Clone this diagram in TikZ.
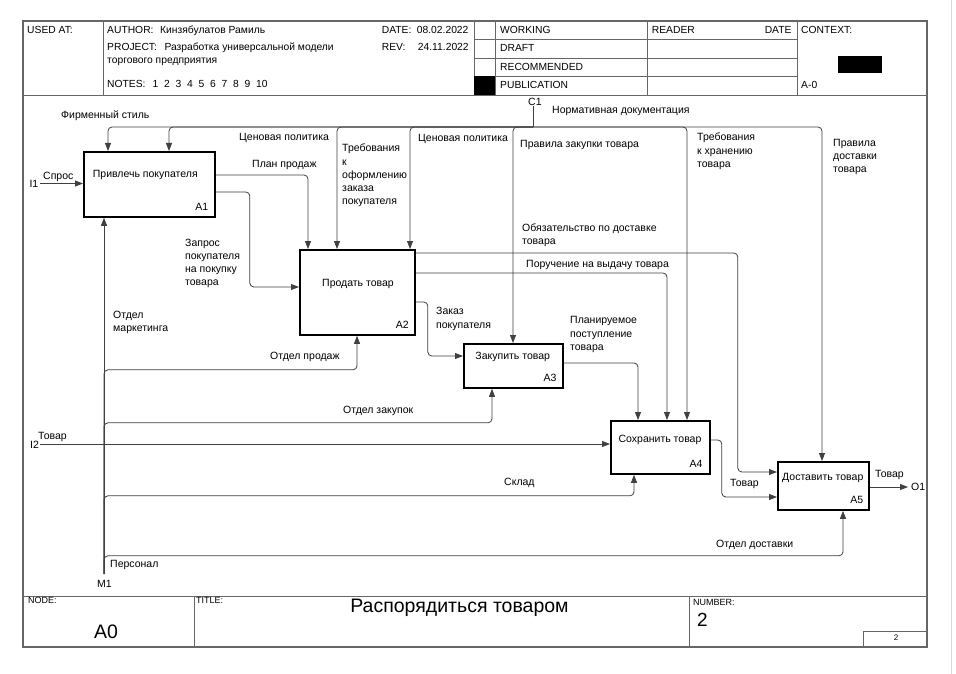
\documentclass[tikz,border=0pt]{standalone}
\usepackage{fontspec}
\setmainfont{Liberation Sans}
\usetikzlibrary{arrows.meta}
\newcommand{\lblfont}{\fontsize{10.5}{13.3}\selectfont}
\newcommand{\hdrfont}{\fontsize{10.3}{12}\selectfont}
\newcommand{\smallfnt}{\fontsize{9}{10}\selectfont}
\begin{document}
\begin{tikzpicture}[x=1pt,y=-1pt,
  box/.style={draw=black,line width=1.8pt,anchor=north west,inner sep=0pt},
  conn/.style={draw=black!75,line width=0.8pt,rounded corners=4pt},
  arr/.style={conn,-{Triangle[length=8pt,width=6pt]}},
  lbl/.style={font=\lblfont,inner sep=0pt,anchor=base west},
  mlbl/.style={font=\lblfont,inner sep=0pt,anchor=north west,align=left},
  btxt/.style={font=\lblfont,inner sep=0pt,anchor=base},
  bnum/.style={font=\lblfont,inner sep=0pt,anchor=base east},
  hdr/.style={font=\hdrfont,inner sep=0pt,anchor=base west},
  ftr/.style={font=\smallfnt,inner sep=0pt,anchor=base west},
  frm/.style={draw=black!60,line width=1.3pt},
  gridl/.style={draw=black!60,line width=0.9pt}]
\useasboundingbox (0,0) rectangle (956,674);
\fill[white] (0,0) rectangle (956,674);
\draw[black!15,line width=0.8pt] (951,0) -- (951,674);

% ---------- frame ----------
\draw[frm] (23,21) rectangle (927,647);
\draw[gridl] (23,95) -- (927,95);
\draw[gridl] (103,21) -- (103,95);
\draw[gridl] (474,21) -- (474,95);
\draw[gridl] (495,21) -- (495,95);
\draw[gridl] (647,21) -- (647,95);
\draw[gridl] (797,21) -- (797,95);
\draw[gridl] (474,39.5) -- (797,39.5);
\draw[gridl] (474,58) -- (797,58);
\draw[gridl] (474,76.5) -- (797,76.5);
\fill[black] (474,76.5) rectangle (495,95);
\fill[black] (838,56) rectangle (882,73);
\draw[gridl] (23,596) -- (927,596);
\draw[gridl] (194,596) -- (194,647);
\draw[gridl] (689,596) -- (689,647);
\draw[gridl] (863,631) rectangle (927,647);

% ---------- header texts ----------
\node[hdr] (usedat) at (27,33.5) {USED AT:};
\node[hdr] (author) at (107,33.5) {AUTHOR:};
\node[hdr] (authorn) at (160,33.5) {Кинзябулатов Рамиль};
\node[hdr] (project) at (107,51) {PROJECT:};
\node[hdr] (projectn) at (164.3,51) {Разработка универсальной модели};
\node[hdr] (project2) at (107,64) {торгового предприятия};
\node[hdr] (notes) at (107,88) {NOTES:};
\node[hdr] (notesn) at (152.3,88) {1\hspace{5.8pt}2\hspace{5.8pt}3\hspace{5.8pt}4\hspace{5.8pt}5\hspace{5.8pt}6\hspace{5.8pt}7\hspace{5.8pt}8\hspace{5.8pt}9\hspace{5.8pt}10};
\node[hdr] (date) at (381.7,33.5) {DATE:};
\node[hdr] (daten) at (416.7,33.5) {08.02.2022};
\node[hdr] (rev) at (381.7,51) {REV:};
\node[hdr] (revn) at (417.7,51) {24.11.2022};
\node[hdr] (working) at (500,34) {WORKING};
\node[hdr] (draft) at (500,52) {DRAFT};
\node[hdr] (recom) at (500,70.5) {RECOMMENDED};
\node[hdr] (publ) at (500,88.3) {PUBLICATION};
\node[hdr] (reader) at (651.7,34) {READER};
\node[hdr,anchor=base east] (rdate) at (791.7,34) {DATE};
\node[hdr] (context) at (801,34) {CONTEXT:};
\node[hdr] (actx) at (801,88.3) {A-0};

% ---------- footer texts ----------
\node[ftr] (nodelbl) at (28,603) {NODE:};
\node[font=\fontsize{19.5}{22}\selectfont,inner sep=0pt,anchor=base west] (nodeval) at (94,638.3) {A0};
\node[ftr] (titlelbl) at (196,603) {TITLE:};
\node[font=\fontsize{19.5}{22}\selectfont,inner sep=0pt,anchor=base] (titleval) at (459.5,612) {Распорядиться товаром};
\node[ftr] (numlbl) at (693,605) {NUMBER:};
\node[font=\fontsize{19}{22}\selectfont,inner sep=0pt,anchor=base west] (numval) at (697,626) {2};
\node[font=\fontsize{8}{10}\selectfont,inner sep=0pt,anchor=base] (pagenum) at (896,640) {2};

% ---------- boxes ----------
\node[box,minimum width=131pt,minimum height=65pt] (A1) at (83,151) {};
\node[box,minimum width=115pt,minimum height=85pt] (A2) at (299,249) {};
\node[box,minimum width=99pt,minimum height=44pt] (A3) at (463,343) {};
\node[box,minimum width=99pt,minimum height=53pt] (A4) at (610,420) {};
\node[box,minimum width=91pt,minimum height=48pt] (A5) at (777,461) {};

\node[btxt] (A1t) at (145.3,178) {Привлечь покупателя};
\node[bnum] (A1n) at (208.3,210.5) {A1};
\node[btxt] (A2t) at (358,286.3) {Продать товар};
\node[bnum] (A2n) at (409,328) {A2};
\node[btxt] (A3t) at (512.7,359.7) {Закупить товар};
\node[bnum] (A3n) at (556.7,381) {A3};
\node[btxt] (A4t) at (660,442) {Сохранить товар};
\node[bnum] (A4n) at (702.7,467) {A4};
\node[btxt] (A5t) at (822.8,480.3) {Доставить товар};
\node[bnum] (A5n) at (863.3,503) {A5};

% ---------- boundary points ----------
\coordinate (C1top) at (533,106);
\coordinate (C1j) at (533,127);
\coordinate (I1) at (40,183.5);
\coordinate (I2) at (40,444);
\coordinate (O1) at (908,487);
\coordinate (M1) at (104,574);

% ---------- controls ----------
\draw[conn] (C1top) -- (C1j);
\draw[arr] (C1j) -| ([xshift=25pt]A1.north west);
\draw[arr] (C1j) -| ([xshift=86pt]A1.north west);
\draw[arr] (C1j) -| ([xshift=38pt]A2.north west);
\draw[arr] (C1j) -| ([xshift=111pt]A2.north west);
\draw[arr] (C1j) -| ([xshift=50pt]A3.north west);
\draw[arr] (C1j) -| ([xshift=77pt]A4.north west);
\draw[arr] (C1j) -| ([xshift=45pt]A5.north west);

% ---------- inputs / outputs ----------
\draw[arr] (I1) -- (I1 -| A1.west);
\draw[arr] (I2) -- (I2 -| A4.west);
\draw[arr] ([yshift=-24pt]A1.north east) -| ([xshift=9pt]A2.north west);
\draw[arr] ([yshift=-41pt]A1.north east) -- ++(34,0) |- ([yshift=-38pt]A2.north west);
\draw[arr] ([yshift=-4pt]A2.north east) -- ++(322,0) |- ([yshift=-11pt]A5.north west);
\draw[arr] ([yshift=-24pt]A2.north east) -| ([xshift=57pt]A4.north west);
\draw[arr] ([yshift=-53pt]A2.north east) -- ++(12,0) |- ([yshift=-13pt]A3.north west);
\draw[arr] ([yshift=-20pt]A3.north east) -| ([xshift=28pt]A4.north west);
\draw[arr] ([yshift=-20pt]A4.north east) -- ++(11,0) |- ([yshift=-36pt]A5.north west);
\draw[arr] (O1 -| A5.east) -- (O1);

% ---------- mechanisms ----------
\draw[arr] (M1) -- (M1 |- A1.south);
\draw[arr] (M1) |- ([xshift=58pt,yshift=-34pt]A2.south west) -- ([xshift=58pt]A2.south west);
\draw[arr] (M1) |- ([xshift=29pt,yshift=-34pt]A3.south west) -- ([xshift=29pt]A3.south west);
\draw[arr] (M1) |- ([xshift=24pt,yshift=-21pt]A4.south west) -- ([xshift=24pt]A4.south west);
\draw[arr] (M1) |- ([xshift=66pt,yshift=-45pt]A5.south west) -- ([xshift=66pt]A5.south west);

% ---------- labels ----------
\node[lbl] (lC1) at (528,105.2) {C1};
\node[lbl] (lnorm) at (552,113.7) {Нормативная документация};
\node[lbl] (lfirm) at (61,118.7) {Фирменный стиль};
\node[lbl] (lcen1) at (239,141) {Ценовая политика};
\node[mlbl] (ltreb) at (342,143.8) {Требования\\к\\оформлению\\заказа\\покупателя};
\node[lbl] (lcen2) at (418,141.3) {Ценовая политика};
\node[lbl] (lprav) at (520,148) {Правила закупки товара};
\node[mlbl] (ltrebh) at (697,132.8) {Требования\\к хранению\\товара};
\node[mlbl] (lpravd) at (833,138.8) {Правила\\доставки\\товара};
\node[lbl] (lplan) at (252,167.3) {План продаж};
\node[lbl] (lI1) at (29.3,187.8) {I1};
\node[lbl] (lspros) at (43,179) {Спрос};
\node[mlbl,font=\fontsize{10.5}{13.1}\selectfont] (lzapr) at (185,238.8) {Запрос\\покупателя\\на покупку\\товара};
\node[mlbl] (lobyaz) at (522,223.2) {Обязательство по доставке\\товара};
\node[lbl] (lporuch) at (526,267) {Поручение на выдачу товара};
\node[mlbl] (lzakaz) at (436,307.2) {Заказ\\покупателя};
\node[mlbl,font=\fontsize{10.5}{13.5}\selectfont] (lplanp) at (570,316.2) {Планируемое\\поступление\\товара};
\node[mlbl,font=\fontsize{10.5}{12.6}\selectfont] (lmark) at (113,311.2) {Отдел\\маркетинга};
\node[lbl] (lprod) at (270,359) {Отдел продаж};
\node[lbl] (lzak) at (343,413) {Отдел закупок};
\node[lbl] (ltov2) at (38,439.7) {Товар};
\node[lbl] (lI2) at (30,448) {I2};
\node[lbl] (lsklad) at (504,485.3) {Склад};
\node[lbl] (ltov4) at (730,486.3) {Товар};
\node[lbl] (ltov5) at (875,477.3) {Товар};
\node[lbl] (lO1) at (911,490.2) {O1};
\node[lbl] (ldost) at (716,547) {Отдел доставки};
\node[lbl] (lpers) at (110,567) {Персонал};
\node[lbl] (lM1) at (97,587.5) {M1};
\end{tikzpicture}
\end{document}
